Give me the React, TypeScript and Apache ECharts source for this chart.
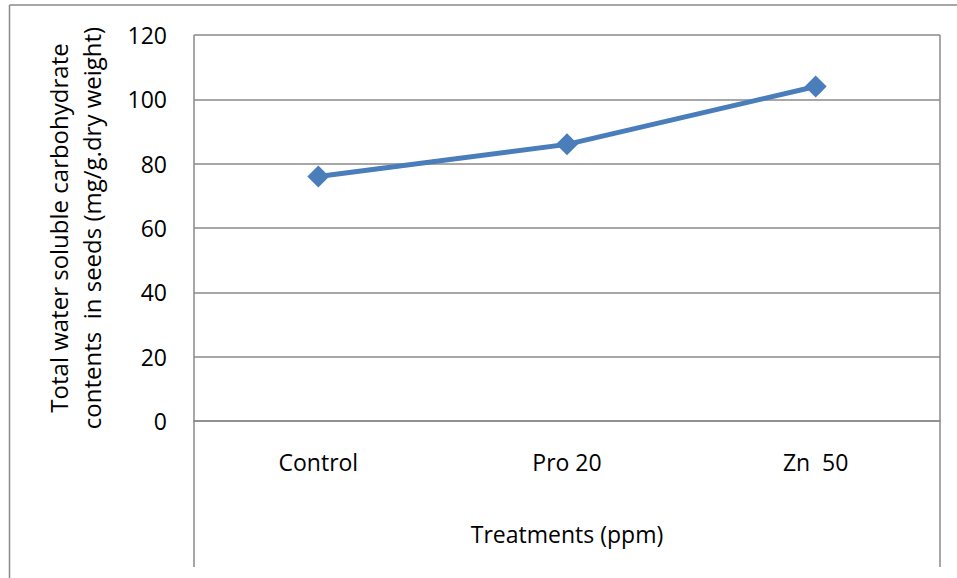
import React, { useEffect, useRef } from "react";
import * as echarts from "echarts";

const categories = ["Control", "Pro 20", "Zn  50"];
const values = [76, 86, 104];
const yTitle = "Total water soluble carbohydrate\ncontents  in seeds (mg/g.dry weight)";
const xTitle = "Treatments (ppm)";

const FONT = "'Open Sans', 'Noto Sans', sans-serif";
const GRID_COLOR = "#8a8a8a";
const FS = 23;

export default function App() {
  const ref = useRef<HTMLDivElement>(null);
  useEffect(() => {
    const chart = echarts.init(ref.current!, null, { renderer: "svg" });
    chart.setOption({
      animation: false,
      backgroundColor: "#ffffff",
      textStyle: { fontFamily: FONT },
      grid: { left: 194, right: 17, top: 35, bottom: 157 },
      xAxis: {
        type: "category",
        data: categories,
        boundaryGap: true,
        axisLine: { show: true, lineStyle: { color: GRID_COLOR, width: 1.5 } },
        axisTick: { show: false },
        axisLabel: { color: "#000", fontSize: FS, margin: 29, fontFamily: FONT },
        name: xTitle,
        nameLocation: "middle",
        nameGap: 101,
        nameTextStyle: { color: "#000", fontSize: FS, fontFamily: FONT },
      },
      yAxis: {
        type: "value",
        min: 0,
        max: 120,
        interval: 20,
        axisLine: { show: false },
        axisTick: { show: false },
        axisLabel: { color: "#000", fontSize: FS, margin: 27, fontFamily: FONT },
        splitLine: { show: true, lineStyle: { color: GRID_COLOR, width: 1.5 } },
        name: yTitle,
        nameLocation: "middle",
        nameRotate: 90,
        nameGap: 86,
        nameTextStyle: { color: "#000", fontSize: 24, lineHeight: 33, fontFamily: FONT },
      },
      series: [
        {
          type: "line",
          data: values,
          symbol: "diamond",
          symbolSize: 22,
          itemStyle: { color: "#4a7ebb" },
          lineStyle: { color: "#4a7ebb", width: 5 },
        },
      ],
      graphic: [
        {
          type: "line",
          shape: { x1: 9.5, y1: 5, x2: 957, y2: 5 },
          style: { stroke: GRID_COLOR, lineWidth: 1.5 },
        },
        {
          type: "line",
          shape: { x1: 9.5, y1: 5, x2: 9.5, y2: 578 },
          style: { stroke: GRID_COLOR, lineWidth: 1.5 },
        },
        {
          type: "line",
          shape: { x1: 194, y1: 35, x2: 194, y2: 567 },
          style: { stroke: GRID_COLOR, lineWidth: 1.5 },
        },
        {
          type: "line",
          shape: { x1: 940, y1: 35, x2: 940, y2: 567 },
          style: { stroke: GRID_COLOR, lineWidth: 1.5 },
        },
      ],
    });
    return () => chart.dispose();
  }, []);
  return (
    <div
      ref={ref}
      style={{ position: "fixed", left: 0, top: 0, width: 957, height: 578 }}
    />
  );
}
